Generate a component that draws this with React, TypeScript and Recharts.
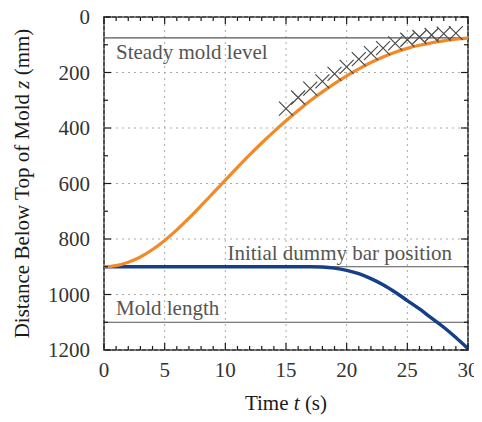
import { ComposedChart, Line, ReferenceArea, ReferenceLine, Scatter, XAxis, YAxis } from "recharts"

// time axis (s)
const TIME = [0, 1, 2, 3, 4, 5, 6, 7, 8, 9, 10, 11, 12, 13, 14, 15, 16, 17, 18, 19, 20, 21, 22, 23, 24, 25, 26, 27, 28, 29, 30]
// simulated mold level (mm below top of mold)
const MOLD_LEVEL = [900, 896, 884, 865, 838, 805, 767, 725, 680, 634, 588, 542, 497, 454, 413, 374, 337, 302, 270, 240, 212, 187, 164, 144, 127, 113, 102, 93, 86, 80, 76]
// dummy bar head position
const DUMMY_BAR = [900, 900, 900, 900, 900, 900, 900, 900, 900, 900, 900, 900, 900, 900, 900, 900, 900, 900, 901, 905, 913, 925, 943, 965, 992, 1022, 1052, 1085, 1118, 1155, 1195]
// measured mold level
const MEASURED_T = [15, 16, 17, 18, 19, 20, 21, 22, 23, 24, 25, 26, 27, 28, 29]
const MEASURED_Z = [330, 290, 258, 232, 205, 180, 152, 130, 112, 95, 82, 72, 65, 60, 58]

const X_TICKS = [0, 1, 2, 3, 4, 5, 6, 7, 8, 9, 10, 11, 12, 13, 14, 15, 16, 17, 18, 19, 20, 21, 22, 23, 24, 25, 26, 27, 28, 29, 30]
const X_MAJOR = [0, 5, 10, 15, 20, 25, 30]
const Y_TICKS = [0, 100, 200, 300, 400, 500, 600, 700, 800, 900, 1000, 1100, 1200]
const Y_MAJOR = [0, 200, 400, 600, 800, 1000, 1200]

const STEADY_LEVEL = 75
const DUMMY_START = 900
const MOLD_LENGTH = 1100

const W = 482
const H = 422
const MARGIN = { top: 17, right: 14, bottom: 42, left: 0 }
const Y_AXIS_W = 104
const X_AXIS_H = 30
const PLOT_TOP = MARGIN.top
const PLOT_RIGHT = W - MARGIN.right
const PLOT_LEFT = MARGIN.left + Y_AXIS_W
const PLOT_BOTTOM = H - MARGIN.bottom - X_AXIS_H
const X_TICK_MARGIN = 11
const Y_TICK_MARGIN = 14

const FONT = '"Liberation Serif", serif'
const FONT_SIZE = 21
const INK = "#1a1a1a"

const data = TIME.map((t, i) => ({ t, mold: MOLD_LEVEL[i], bar: DUMMY_BAR[i] }))
const measured = MEASURED_T.map((t, i) => ({ t, z: MEASURED_Z[i] }))

function XTick(props: any) {
  const { x, y, payload } = props
  const v = payload.value as number
  const major = X_MAJOR.includes(v)
  const len = major ? 7 : 4
  const axisY = y - X_TICK_MARGIN
  return (
    <g>
      <line x1={x} x2={x} y1={axisY} y2={axisY - len} stroke={INK} strokeWidth={1.2} />
      <line x1={x} x2={x} y1={PLOT_TOP} y2={PLOT_TOP + len} stroke={INK} strokeWidth={1.2} />
      {major && (
        <text x={x} y={y + 16} textAnchor="middle" style={{ fontFamily: FONT, fontSize: FONT_SIZE }} fill="#333">
          {v}
        </text>
      )}
    </g>
  )
}

function YTick(props: any) {
  const { x, y, payload } = props
  const v = payload.value as number
  const major = Y_MAJOR.includes(v)
  const len = major ? 7 : 4
  const axisX = x + Y_TICK_MARGIN
  return (
    <g>
      <line x1={axisX} x2={axisX + len} y1={y} y2={y} stroke={INK} strokeWidth={1.2} />
      <line x1={PLOT_RIGHT} x2={PLOT_RIGHT - len} y1={y} y2={y} stroke={INK} strokeWidth={1.2} />
      {major && (
        <text x={x} y={y + 7} textAnchor="end" style={{ fontFamily: FONT, fontSize: FONT_SIZE }} fill="#333">
          {v}
        </text>
      )}
    </g>
  )
}

function Cross(props: any) {
  const { cx, cy } = props
  const r = 7
  return (
    <path
      d={`M${cx - r},${cy - r}L${cx + r},${cy + r}M${cx - r},${cy + r}L${cx + r},${cy - r}`}
      stroke="#4a4a4a"
      strokeWidth={1.2}
      fill="none"
    />
  )
}

const lineLabel = (text: string, dx: number, dy: number, anchor: "start" | "end") => (props: any) => {
  const vb = props.viewBox
  const x = anchor === "start" ? vb.x + dx : vb.x + vb.width - dx
  return (
    <text x={x} y={vb.y + dy} textAnchor={anchor} style={{ fontFamily: FONT, fontSize: FONT_SIZE }} fill="#555">
      {text}
    </text>
  )
}

export default function App() {
  const midX = (PLOT_LEFT + PLOT_RIGHT) / 2
  const midY = (PLOT_TOP + PLOT_BOTTOM) / 2
  return (
    <div style={{ position: "relative", left: -8, top: -8, width: W, height: H }}>
      <ComposedChart width={W} height={H} data={data} margin={MARGIN}>
        {X_MAJOR.map((v) => (
          <ReferenceLine key={`gx${v}`} x={v} stroke="#aaa" strokeDasharray="2 4" strokeWidth={1} />
        ))}
        {Y_MAJOR.map((v) => (
          <ReferenceLine key={`gy${v}`} y={v} stroke="#aaa" strokeDasharray="2 4" strokeWidth={1} />
        ))}
        <XAxis
          dataKey="t"
          type="number"
          domain={[0, 30]}
          ticks={X_TICKS}
          interval={0}
          height={X_AXIS_H}
          tickSize={0}
          tickMargin={X_TICK_MARGIN}
          axisLine={false}
          tick={<XTick />}
          allowDataOverflow
          label={(p: any) => {
            const vb = p.viewBox
            return (
              <text x={midX} y={vb.y + 60} textAnchor="middle" style={{ fontFamily: FONT, fontSize: FONT_SIZE }} fill={INK}>
                Time <tspan fontStyle="italic">t</tspan> (s)
              </text>
            )
          }}
        />
        <YAxis
          type="number"
          domain={[0, 1200]}
          reversed
          ticks={Y_TICKS}
          interval={0}
          width={Y_AXIS_W}
          tickSize={0}
          tickMargin={Y_TICK_MARGIN}
          axisLine={false}
          tick={<YTick />}
          allowDataOverflow
          label={() => (
            <text
              x={22}
              y={midY}
              transform={`rotate(-90, 22, ${midY})`}
              textAnchor="middle"
              dy={7}
              style={{ fontFamily: FONT, fontSize: FONT_SIZE }}
              fill={INK}
            >
              Distance Below Top of Mold <tspan fontStyle="italic">z</tspan> (mm)
            </text>
          )}
        />
        <ReferenceLine y={STEADY_LEVEL} stroke="#555" strokeWidth={1.2} label={lineLabel("Steady mold level", 12, 21, "start")} />
        <ReferenceLine y={DUMMY_START} stroke="#555" strokeWidth={1.2} label={lineLabel("Initial dummy bar position", 16, -7, "end")} />
        <ReferenceLine y={MOLD_LENGTH} stroke="#555" strokeWidth={1.2} label={lineLabel("Mold length", 12, -7, "start")} />
        <Line dataKey="bar" type="monotone" stroke="#153f86" strokeWidth={3.5} dot={false} activeDot={false} isAnimationActive={false} />
        <Line dataKey="mold" type="monotone" stroke="#f28a2a" strokeWidth={3.2} dot={false} activeDot={false} isAnimationActive={false} />
        <Scatter data={measured} dataKey="z" shape={<Cross />} isAnimationActive={false} />
        <ReferenceArea x1={0} x2={30} y1={0} y2={1200} fill="none" stroke={INK} strokeWidth={1.5} />
      </ComposedChart>
    </div>
  )
}
